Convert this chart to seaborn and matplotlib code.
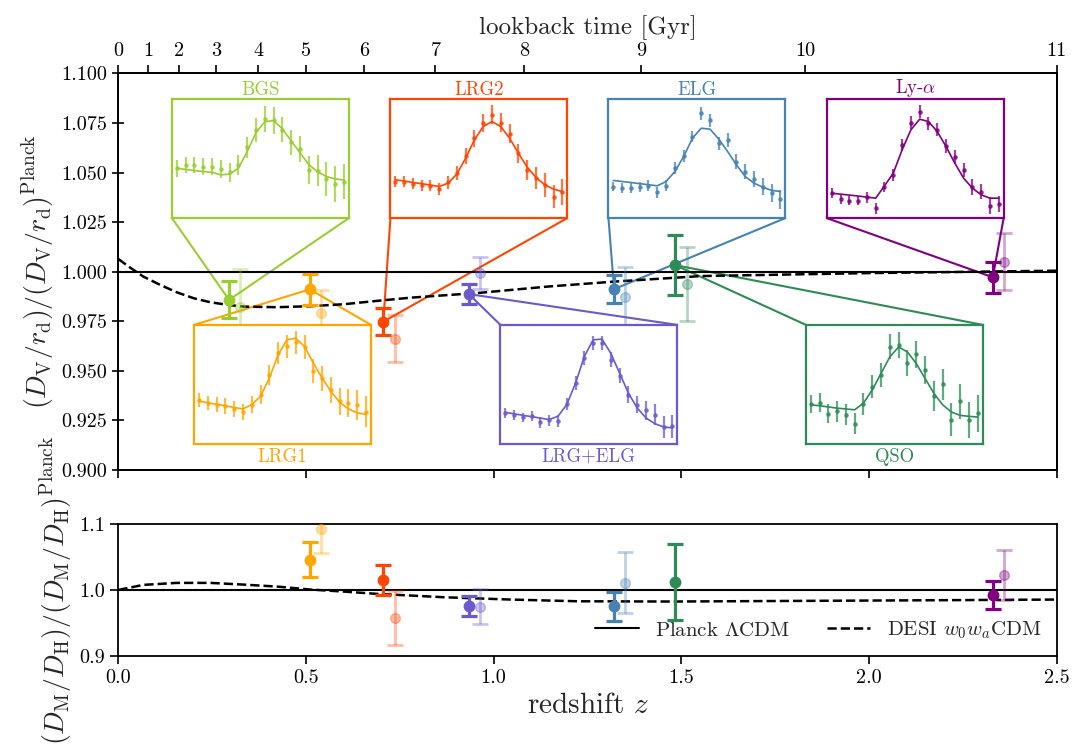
import numpy as np
import matplotlib
matplotlib.use('Agg')
import matplotlib.pyplot as plt
import seaborn as sns

# --- tracers ---------------------------------------------------------------
tracers = ['BGS', 'LRG1', 'LRG2', 'LRG+ELG', 'ELG', 'QSO', 'Ly-$\\alpha$']
colors = ['yellowgreen', 'orange', 'orangered', 'slateblue', 'steelblue', 'seagreen', 'purple']
z_eff = [0.295, 0.510, 0.706, 0.934, 1.321, 1.484, 2.330]

# DV ratio (top panel): dark = new points, faded = older points
dv_new = [0.9858, 0.9911, 0.9748, 0.9887, 0.9912, 1.0033, 0.9972]
dv_new_err = [0.0094, 0.0078, 0.0068, 0.0049, 0.0071, 0.0153, 0.0078]
dv_old = [0.9824, 0.9791, 0.9663, 0.9992, 0.9874, 0.9938, 1.0050]
dv_old_err = [0.0190, 0.0117, 0.0120, 0.0080, 0.0150, 0.0186, 0.0143]

# DM/DH ratio (bottom panel)
dmdh_new = [np.nan, 1.046, 1.015, 0.9757, 0.975, 1.012, 0.9927]
dmdh_new_err = [np.nan, 0.027, 0.0235, 0.0157, 0.0224, 0.0573, 0.0214]
dmdh_old = [np.nan, 1.093, 0.9567, 0.9747, 1.0108, np.nan, 1.023]
dmdh_old_err = [np.nan, 0.037, 0.041, 0.0268, 0.046, np.nan, 0.038]

# DESI w0waCDM curves relative to Planck
z_model_dv = [0.0, 0.032, 0.067, 0.112, 0.156, 0.201, 0.245, 0.29, 0.334, 0.423,
              0.512, 0.601, 0.69, 0.779, 0.966, 1.144, 1.321, 1.553, 2.0, 2.5]
dv_w0wa = [1.0064, 1.0020, 0.9975, 0.9933, 0.9896, 0.9866, 0.9846, 0.9833, 0.9824, 0.9821,
           0.9826, 0.9836, 0.9853, 0.9869, 0.9894, 0.9925, 0.9950, 0.9978, 0.9993, 1.0005]
z_model_dmdh = [0.0, 0.067, 0.156, 0.245, 0.334, 0.423, 0.512, 0.601, 0.69,
                0.779, 0.868, 1.046, 1.224, 1.473, 1.828, 2.184, 2.5]
dmdh_w0wa = [1.0, 1.0076, 1.0106, 1.0106, 1.0080, 1.0050, 1.0005, 0.9974, 0.9939,
             0.9914, 0.9888, 0.9853, 0.9827, 0.9823, 0.9833, 0.9843, 0.9853]

# lookback time axis
lookback_gyr = [0, 1, 2, 3, 4, 5, 6, 7, 8, 9, 10, 11]
lookback_z = [0.0, 0.079, 0.162, 0.261, 0.373, 0.500, 0.655, 0.845, 1.082, 1.394, 1.830, 2.500]

# --- BAO bump insets (normalised to inset height) ---------------------------
bgs_pts = [0.420, 0.448, 0.448, 0.434, 0.434, 0.415, 0.387, 0.448, 0.594, 0.742,
           0.832, 0.821, 0.742, 0.636, 0.580, 0.406, 0.398, 0.328, 0.286, 0.308]
bgs_fit = [0.420, 0.410, 0.400, 0.392, 0.385, 0.364, 0.370, 0.420, 0.560, 0.720,
           0.810, 0.820, 0.750, 0.650, 0.550, 0.450, 0.390, 0.350, 0.330, 0.320]
bgs_err = [0.07, 0.07, 0.07, 0.07, 0.075, 0.075, 0.08, 0.085, 0.09, 0.10,
           0.11, 0.11, 0.105, 0.105, 0.11, 0.12, 0.13, 0.14, 0.15, 0.15]

lrg1_pts = [0.366, 0.344, 0.330, 0.316, 0.293, 0.268, 0.330, 0.413, 0.581, 0.763,
            0.818, 0.852, 0.813, 0.609, 0.553, 0.455, 0.358, 0.344, 0.324, 0.268]
lrg1_fit = [0.358, 0.345, 0.332, 0.320, 0.305, 0.293, 0.330, 0.400, 0.553, 0.749,
            0.874, 0.888, 0.818, 0.679, 0.553, 0.441, 0.349, 0.293, 0.260, 0.246]
lrg1_err = [0.06, 0.06, 0.065, 0.065, 0.07, 0.07, 0.075, 0.08, 0.085, 0.09,
            0.095, 0.10, 0.10, 0.10, 0.105, 0.11, 0.115, 0.12, 0.125, 0.13]

lrg2_pts = [0.308, 0.308, 0.289, 0.277, 0.272, 0.244, 0.300, 0.378, 0.524, 0.672,
            0.798, 0.868, 0.804, 0.709, 0.546, 0.406, 0.336, 0.280, 0.182, 0.218]
lrg2_fit = [0.322, 0.313, 0.300, 0.290, 0.278, 0.266, 0.294, 0.370, 0.504, 0.658,
            0.770, 0.812, 0.770, 0.672, 0.546, 0.429, 0.342, 0.280, 0.244, 0.224]
lrg2_err = [0.045, 0.045, 0.045, 0.045, 0.045, 0.05, 0.055, 0.06, 0.065, 0.07,
            0.075, 0.08, 0.08, 0.08, 0.08, 0.085, 0.09, 0.10, 0.10, 0.11]

lrgelg_pts = [0.260, 0.243, 0.223, 0.232, 0.182, 0.198, 0.190, 0.338, 0.511, 0.721,
              0.846, 0.846, 0.707, 0.573, 0.413, 0.330, 0.282, 0.246, 0.142, 0.148]
lrgelg_fit = [0.265, 0.252, 0.240, 0.228, 0.216, 0.204, 0.232, 0.330, 0.511, 0.735,
              0.874, 0.880, 0.762, 0.595, 0.427, 0.302, 0.218, 0.170, 0.142, 0.134]
lrgelg_err = [0.04, 0.04, 0.04, 0.04, 0.045, 0.045, 0.05, 0.05, 0.055, 0.055,
              0.06, 0.06, 0.065, 0.065, 0.07, 0.075, 0.08, 0.085, 0.09, 0.095]

elg_pts = [0.266, 0.252, 0.252, 0.261, 0.272, 0.216, 0.272, 0.420, 0.524, 0.686,
           0.882, 0.821, 0.630, 0.658, 0.476, 0.392, 0.331, 0.266, 0.210, 0.160]
elg_fit = [0.317, 0.308, 0.300, 0.290, 0.281, 0.272, 0.308, 0.392, 0.518, 0.672,
           0.756, 0.748, 0.664, 0.560, 0.448, 0.350, 0.294, 0.261, 0.233, 0.224]
elg_err = [0.04, 0.04, 0.04, 0.04, 0.045, 0.045, 0.045, 0.05, 0.05, 0.05,
           0.055, 0.055, 0.055, 0.06, 0.06, 0.065, 0.065, 0.07, 0.075, 0.08]

qso_pts = [0.333, 0.347, 0.253, 0.272, 0.244, 0.169, 0.336, 0.481, 0.578, 0.814,
           0.828, 0.681, 0.753, 0.619, 0.403, 0.500, 0.203, 0.356, 0.203, 0.258]
qso_fit = [0.328, 0.320, 0.310, 0.300, 0.293, 0.286, 0.342, 0.453, 0.592, 0.731,
           0.814, 0.772, 0.675, 0.550, 0.425, 0.328, 0.267, 0.239, 0.231, 0.225]
qso_err = [0.075, 0.08, 0.08, 0.085, 0.09, 0.09, 0.095, 0.10, 0.10, 0.105,
           0.11, 0.11, 0.115, 0.12, 0.125, 0.13, 0.14, 0.145, 0.15, 0.155]

lya_pts = [0.210, 0.160, 0.148, 0.148, 0.176, 0.084, 0.261, 0.364, 0.616, 0.804,
           0.896, 0.798, 0.742, 0.608, 0.513, 0.406, 0.261, 0.224, 0.104, 0.120]
lya_fit = [0.210, 0.202, 0.194, 0.186, 0.177, 0.168, 0.272, 0.378, 0.574, 0.742,
           0.832, 0.812, 0.728, 0.602, 0.462, 0.336, 0.252, 0.196, 0.168, 0.168]
lya_err = [0.04, 0.04, 0.04, 0.04, 0.045, 0.045, 0.045, 0.05, 0.05, 0.055,
           0.055, 0.055, 0.055, 0.06, 0.06, 0.06, 0.065, 0.065, 0.07, 0.07]

inset_pts = [bgs_pts, lrg1_pts, lrg2_pts, lrgelg_pts, elg_pts, qso_pts, lya_pts]
inset_fit = [bgs_fit, lrg1_fit, lrg2_fit, lrgelg_fit, elg_fit, qso_fit, lya_fit]
inset_err = [bgs_err, lrg1_err, lrg2_err, lrgelg_err, elg_err, qso_err, lya_err]

# inset placement in data coords of the top panel: (x0, y0, above)
inset_pos = [(0.143, 1.027, True), (0.202, 0.9132, False), (0.725, 1.027, True),
             (1.018, 0.9132, False), (1.306, 1.027, True), (1.832, 0.9132, False),
             (1.888, 1.027, True)]
inset_w, inset_h = 0.471, 0.06
dz_old = 0.03

# --- style ------------------------------------------------------------------
sns.set_theme(style='ticks')
plt.rcParams['font.family'] = 'serif'
plt.rcParams['font.serif'] = ['cmr10']
plt.rcParams['mathtext.fontset'] = 'cm'
plt.rcParams['axes.formatter.use_mathtext'] = True
plt.rcParams['axes.linewidth'] = 1.3
plt.rcParams['axes.edgecolor'] = 'black'
plt.rcParams['xtick.color'] = 'black'
plt.rcParams['ytick.color'] = 'black'

fig = plt.figure(figsize=(10.72, 7.49), dpi=100)
ax = fig.add_axes([0.1104, 0.3725, 0.8752, 0.5295])
axb = fig.add_axes([0.1104, 0.1245, 0.8752, 0.1759], sharex=ax)

# reference lines
ax.axhline(1.0, color='black', lw=1.5, zorder=2)
axb.axhline(1.0, color='black', lw=1.5, zorder=2, label='Planck $\\Lambda$CDM')
sns.lineplot(x=z_model_dv, y=dv_w0wa, ax=ax, color='black', lw=1.8,
             linestyle='--', zorder=2, legend=False)
sns.lineplot(x=z_model_dmdh, y=dmdh_w0wa, ax=axb, color='black', lw=1.8,
             linestyle='--', zorder=2, label='DESI $w_0w_a$CDM')

for i, name in enumerate(tracers):
    c = colors[i]
    z = z_eff[i]
    # older measurements, faded
    ax.errorbar(z + dz_old, dv_old[i], yerr=dv_old_err[i], fmt='o', color=c, ms=7,
                capsize=6, elinewidth=2, capthick=2, alpha=0.35, zorder=3)
    axb.errorbar(z + dz_old, dmdh_old[i], yerr=dmdh_old_err[i], fmt='o', color=c, ms=7,
                 capsize=6, elinewidth=2, capthick=2, alpha=0.35, zorder=3)
    # new measurements
    ax.errorbar(z, dv_new[i], yerr=dv_new_err[i], fmt='o', color=c, ms=7.5,
                capsize=6, elinewidth=2.3, capthick=2.3, zorder=4)
    axb.errorbar(z, dmdh_new[i], yerr=dmdh_new_err[i], fmt='o', color=c, ms=7.5,
                 capsize=6, elinewidth=2.3, capthick=2.3, zorder=4)

    # inset with the BAO bump
    x0, y0, above = inset_pos[i]
    ins = ax.inset_axes([x0, y0, inset_w, inset_h], transform=ax.transData)
    bins = np.arange(len(inset_pts[i]))
    ins.errorbar(bins, inset_pts[i], yerr=inset_err[i], fmt='o', ms=2.3, color=c,
                 elinewidth=1.6, alpha=0.75)
    sns.lineplot(x=bins, y=inset_fit[i], ax=ins, color=c, lw=1.2, legend=False)
    ins.set_xlim(-0.55, len(bins) - 0.45)
    ins.set_ylim(0, 1)
    ins.set_xticks([])
    ins.set_yticks([])
    ins.set_facecolor('white')
    for sp in ins.spines.values():
        sp.set_color(c)
        sp.set_linewidth(1.6)
    if above:
        ins.set_title(name, color=c, fontsize=13.5, pad=3)
        yc = y0
    else:
        ins.set_xlabel(name, color=c, fontsize=13.5, labelpad=3)
        yc = y0 + inset_h
    # connector lines from the point to the inset corners
    ax.plot([z, x0], [dv_new[i], yc], color=c, lw=1.5, zorder=1.5)
    ax.plot([z, x0 + inset_w], [dv_new[i], yc], color=c, lw=1.5, zorder=1.5)

# --- axes -------------------------------------------------------------------
ax.set_xlim(0, 2.5)
ax.set_ylim(0.9, 1.1)
ax.set_yticks(np.arange(0.9, 1.1001, 0.025))
ax.yaxis.set_major_formatter(matplotlib.ticker.FormatStrFormatter('%.3f'))
ax.tick_params(axis='y', direction='inout', length=9, width=1.2, labelsize=14.5)
ax.tick_params(axis='x', direction='out', length=6, width=1.2, labelbottom=False)
ax.set_ylabel('$(D_\\mathrm{V}/r_\\mathrm{d})/(D_\\mathrm{V}/r_\\mathrm{d})^\\mathrm{Planck}$',
              fontsize=20)

top = ax.twiny()
top.set_xlim(0, 2.5)
top.set_xticks(lookback_z)
top.set_xticklabels([str(t) for t in lookback_gyr])
top.tick_params(axis='x', direction='out', length=6, width=1.2, labelsize=14.5)
top.set_xlabel('lookback time [Gyr]', fontsize=18, labelpad=6)

axb.set_ylim(0.9, 1.1)
axb.set_yticks([0.9, 1.0, 1.1])
axb.yaxis.set_major_formatter(matplotlib.ticker.FormatStrFormatter('%.1f'))
axb.set_xticks([0.0, 0.5, 1.0, 1.5, 2.0, 2.5])
axb.xaxis.set_major_formatter(matplotlib.ticker.FormatStrFormatter('%.1f'))
axb.tick_params(direction='out', length=6, width=1.2, labelsize=14.5)
axb.set_xlabel('redshift $z$', fontsize=21)
axb.set_ylabel('$(D_\\mathrm{M}/D_\\mathrm{H})/(D_\\mathrm{M}/D_\\mathrm{H})^\\mathrm{Planck}$',
               fontsize=20)
axb.legend(loc='lower right', ncol=2, frameon=False, fontsize=15, handlelength=2.1,
           columnspacing=1.75, borderaxespad=0.3)

fig.align_ylabels([ax, axb])
fig.savefig('out.png', dpi=100)
